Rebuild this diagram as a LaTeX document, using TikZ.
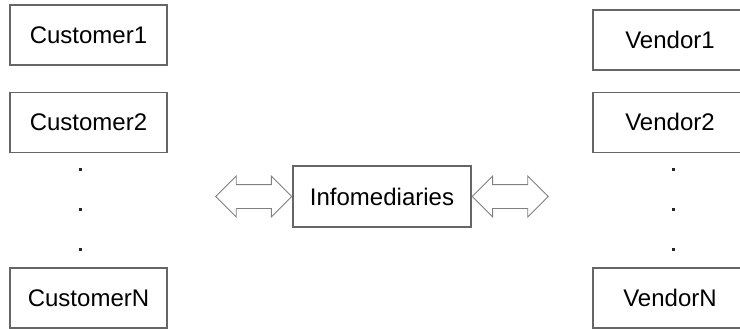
\documentclass[tikz,border=0pt]{standalone}
\usepackage{fontspec}
\setmainfont{Liberation Sans}
\usetikzlibrary{positioning,shapes.arrows}

\begin{document}
\begin{tikzpicture}[x=1pt,y=-1pt,
    box/.style={draw=black!60,line width=1.2pt,fill=white,inner sep=0pt,
                minimum height=60pt,font=\fontsize{24}{28}\selectfont},
    cbox/.style={box,minimum width=157pt},
    vbox/.style={box,minimum width=154pt},
    dotmark/.style={fill=black!85,inner sep=0pt,minimum size=3pt},
    dblarrow/.style={shape=double arrow,draw=black!50,line width=0.9pt,
                fill=white,inner sep=11.5pt,minimum height=76pt,
                double arrow head extend=8.5pt}]
  \useasboundingbox[fill=white] (0,0) rectangle (740,329);

  % customers
  \node[cbox] (c1) at (88.5,35) {Customer1};
  \node[cbox] (c2) [below=26pt of c1] {Customer2};
  \node[cbox] (cn) at (88.5,298) {CustomerN};
  \node[dotmark] (cd1) at (80,169) {};
  \node[dotmark] (cd2) [below=37pt of cd1] {};
  \node[dotmark] (cd3) [below=37pt of cd2] {};

  % vendors (boxes run past the right edge)
  \node[vbox] (v1) at (670,40) {Vendor1};
  \node[vbox] (v2) [below=21pt of v1] {Vendor2};
  \node[vbox] (vn) at (670,298) {VendorN};
  \node[dotmark] (vd1) at (673,169) {};
  \node[dotmark] (vd2) [below=37pt of vd1] {};
  \node[dotmark] (vd3) [below=37pt of vd2] {};

  % middle
  \node[box,minimum width=178pt,minimum height=61pt] (info) at (382,196.5) {Infomediaries};
  \node[dblarrow,anchor=east] (la) at (info.west) {};
  \node[dblarrow,anchor=west] (ra) at (info.east) {};
\end{tikzpicture}
\end{document}
